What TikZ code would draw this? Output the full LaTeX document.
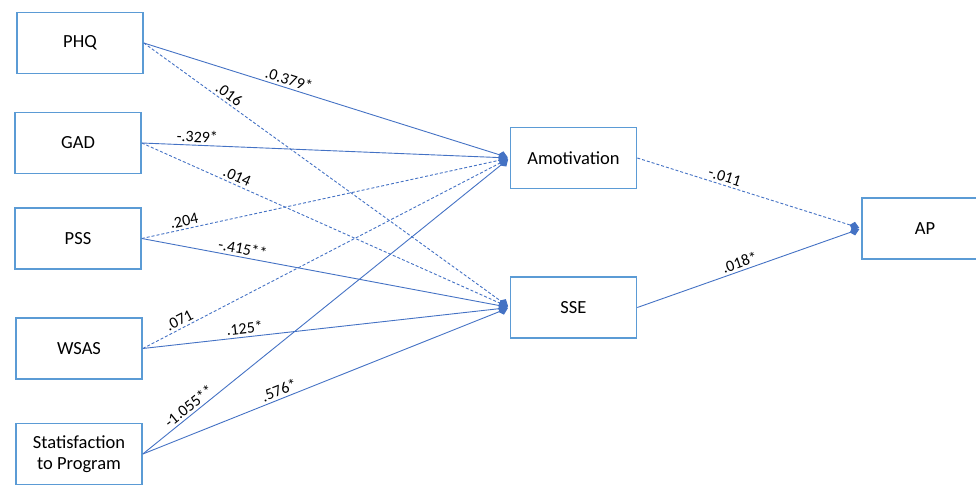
\documentclass[tikz,border=0pt]{standalone}
\usepackage{fontspec}
\setmainfont{Carlito}
\usetikzlibrary{arrows.meta}
\definecolor{boxblue}{HTML}{5B9BD5}
\definecolor{pathblue}{HTML}{4472C4}
\begin{document}
\begin{tikzpicture}[x=1pt,y=-1pt,
    var/.style={draw=boxblue, line width=1.6pt, minimum width=126pt, minimum height=61pt,
                align=center, font=\fontsize{18.5}{22}\selectfont},
    path/.style={draw=pathblue, line width=.9pt, -{Kite[length=10pt,width=9pt,inset=4pt]}, shorten >=2pt},
    ns/.style={path, dash pattern=on 3pt off 2pt},
    coef/.style={sloped, above, inner sep=2.5pt, font=\fontsize{16}{18}\selectfont}]
  \clip (0,0) rectangle (976,484);
  % predictors
  \node[var] (phq)  at (80,43)    {PHQ};
  \node[var] (gad)  at (78,143)   {GAD};
  \node[var] (pss)  at (78,238.5) {PSS};
  \node[var] (wsas) at (79,348.5) {WSAS};
  \node[var] (sat)  at (79,454)   {Statisfaction\\[-1pt]to Program};
  % mediators and outcome
  \node[var] (amot) at (573.5,158)   {Amotivation};
  \node[var] (sse)  at (573.5,307.5) {SSE};
  \node[var] (ap)   at (925,228.5)   {AP};
  % paths
  \draw[path] (phq.east)  -- node[coef, pos=.39] {.0.379*}  (amot.west);
  \draw[ns]   (phq.east)  -- node[coef, pos=.22] {.016}     (sse.west);
  \draw[path] (gad.east)  -- node[coef, pos=.15] {-.329*}   (amot.west);
  \draw[ns]   (gad.east)  -- node[coef, pos=.25] {.014}     (sse.west);
  \draw[ns]   (pss.east)  -- node[coef, pos=.12] {.204}     (amot.west);
  \draw[path] (pss.east)  -- node[coef, pos=.27] {-.415**}  (sse.west);
  \draw[ns]   (wsas.east) -- node[coef, pos=.11] {.071}     (amot.west);
  \draw[path] (wsas.east) -- node[coef, pos=.28] {.125*}    (sse.west);
  \draw[path] (sat.east)  -- node[coef, pos=.14] {-1.055**} (amot.west);
  \draw[path] (sat.east)  -- node[coef, pos=.38] {.576*}    (sse.west);
  \draw[ns]   (amot.east) -- node[coef, pos=.38] {-.011}    (ap.west);
  \draw[path] (sse.east)  -- node[coef, pos=.47] {.018*}    (ap.west);
\end{tikzpicture}
\end{document}
